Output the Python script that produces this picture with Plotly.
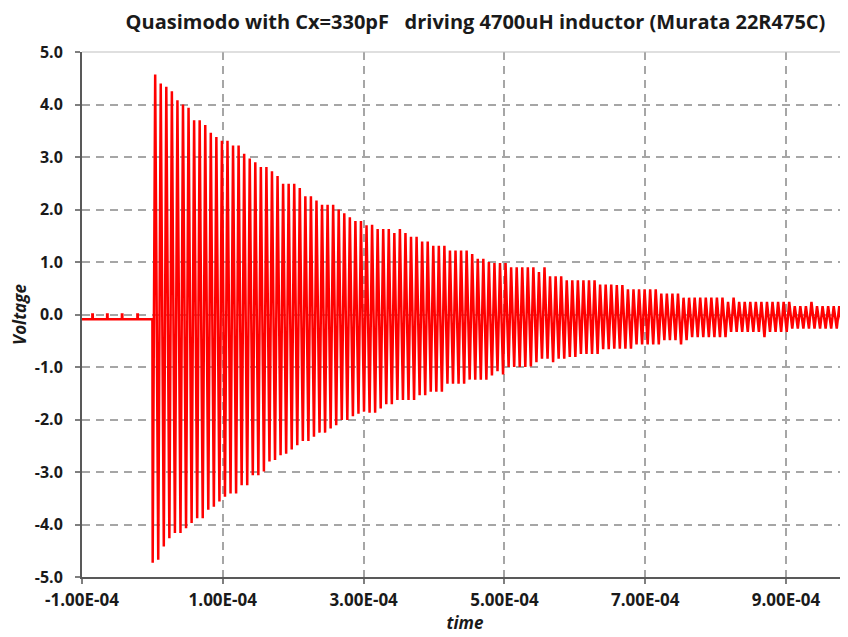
import plotly.graph_objects as go

# ---- data ----
period = 7.9e-6          # oscillation period (s), read from peak spacing
pre_level = -0.09        # level before the trigger (V)
pre_pulse_times = [-8.5e-5, -6.4e-5, -4.3e-5, -2.1e-5]
pre_pulse_level = 0.0

upper_peaks = [
    4.57, 4.40, 4.34, 4.25, 4.08, 4.00, 3.94, 3.70, 3.70, 3.61,
    3.46, 3.38, 3.31, 3.31, 3.22, 3.22, 3.06, 2.97, 2.90, 2.81,
    2.81, 2.73, 2.64, 2.49, 2.49, 2.49, 2.41, 2.25, 2.25, 2.17,
    2.09, 2.09, 2.09, 2.00, 1.93, 1.85, 1.78, 1.78, 1.70, 1.71,
    1.63, 1.63, 1.63, 1.55, 1.63, 1.55, 1.48, 1.48, 1.39, 1.39,
    1.31, 1.31, 1.31, 1.22, 1.22, 1.22, 1.22, 1.15, 1.06, 1.06,
    1.00, 0.98, 0.98, 0.98, 0.90, 0.90, 0.90, 0.90, 0.90, 0.81,
    0.90, 0.73, 0.73, 0.73, 0.65, 0.65, 0.65, 0.65, 0.65, 0.65,
    0.57, 0.57, 0.57, 0.56, 0.56, 0.48, 0.48, 0.48, 0.48, 0.48,
    0.48, 0.40, 0.40, 0.40, 0.40, 0.32, 0.32, 0.32, 0.32, 0.32,
    0.32, 0.32, 0.32, 0.24, 0.32, 0.24, 0.24, 0.24, 0.24, 0.24,
    0.24, 0.24, 0.24, 0.24, 0.24, 0.16, 0.16, 0.16, 0.24, 0.16,
    0.16, 0.16, 0.16, 0.16, 0.24,
]
lower_peaks = [
    -4.73, -4.67, -4.42, -4.26, -4.16, -4.16, -4.07, -3.97, -3.88, -3.88,
    -3.72, -3.66, -3.56, -3.47, -3.41, -3.41, -3.25, -3.25, -3.06, -3.06,
    -2.99, -2.80, -2.77, -2.68, -2.65, -2.57, -2.49, -2.41, -2.41, -2.33,
    -2.25, -2.25, -2.17, -2.11, -2.01, -2.01, -1.94, -1.89, -1.85, -1.87,
    -1.87, -1.79, -1.71, -1.71, -1.63, -1.63, -1.63, -1.63, -1.54, -1.54,
    -1.47, -1.47, -1.47, -1.32, -1.32, -1.32, -1.32, -1.24, -1.24, -1.24,
    -1.24, -1.16, -1.08, -1.14, -1.00, -1.00, -1.00, -1.00, -0.99, -0.91,
    -0.84, -0.84, -0.91, -0.84, -0.84, -0.81, -0.81, -0.75, -0.75, -0.75,
    -0.75, -0.66, -0.66, -0.65, -0.65, -0.65, -0.65, -0.57, -0.57, -0.57,
    -0.57, -0.57, -0.49, -0.49, -0.49, -0.57, -0.49, -0.43, -0.43, -0.43,
    -0.43, -0.43, -0.43, -0.43, -0.33, -0.33, -0.33, -0.33, -0.33, -0.33,
    -0.43, -0.33, -0.33, -0.33, -0.33, -0.27, -0.27, -0.27, -0.27, -0.27,
    -0.27, -0.27, -0.27, -0.27, -0.27,
]

x_tick_vals = [-1e-4, 1e-4, 3e-4, 5e-4, 7e-4, 9e-4]
x_tick_text = ["-1.00E-04", "1.00E-04", "3.00E-04", "5.00E-04", "7.00E-04", "9.00E-04"]
y_tick_vals = [-5, -4, -3, -2, -1, 0, 1, 2, 3, 4, 5]
y_tick_text = ["-5.0", "-4.0", "-3.0", "-2.0", "-1.0", "0.0", "1.0", "2.0", "3.0", "4.0", "5.0"]

title_text = "Quasimodo with Cx=330pF   driving 4700uH inductor (Murata 22R475C)"

# ---- build the waveform from the read values ----
t = [-1e-4]
v = [pre_level]
half = 0.3e-6
for tp in pre_pulse_times:
    t += [tp - half, tp - half, tp + half, tp + half]
    v += [pre_level, pre_pulse_level, pre_pulse_level, pre_level]
t.append(0.0)
v.append(pre_level)
n = max(len(upper_peaks), len(lower_peaks))
for k in range(n):
    if k < len(lower_peaks):
        t.append((k + 0.05) * period)
        v.append(lower_peaks[k])
    if k < len(upper_peaks):
        t.append((k + 0.5) * period)
        v.append(upper_peaks[k])

fig = go.Figure()
fig.add_trace(go.Scatter(x=t, y=v, mode="lines",
                         line=dict(color="#FF0000", width=2.5),
                         showlegend=False, hoverinfo="skip"))

# page body has an 8px margin, so the figure is 8px smaller and offset
OFF = 8
W, H = 848 - OFF, 637 - OFF
L, R, T = 82 - OFF, 0, 52 - OFF
B = H - T - 525
x_max = -1e-4 + (848 - 82) / 704.0 * 1e-3

FONT = "Open Sans"
TXT = "#1a1a1a"
GRID_DASH = "8px,6px"
fig.update_layout(
    width=W, height=H,
    margin=dict(l=L, r=R, t=T, b=B, autoexpand=False),
    paper_bgcolor="white", plot_bgcolor="white",
    title=dict(text="<b>" + title_text + "</b>",
               font=dict(family=FONT, size=20, color=TXT),
               x=(475.5 - OFF) / W, xref="container", xanchor="center",
               y=1 - (22 - OFF) / H, yref="container", yanchor="middle"),
    xaxis=dict(range=[-1e-4, x_max], tickvals=x_tick_vals,
               ticktext=["<b>" + s + "</b>" for s in x_tick_text],
               tickfont=dict(family=FONT, size=17, color=TXT),
               ticks="outside", ticklen=5, tickwidth=2,
               tickcolor="#7f7f7f", automargin=False, ticklabelstandoff=2,
               showline=True, linecolor="#595959", linewidth=2,
               showgrid=True, gridcolor="#A6A6A6", griddash=GRID_DASH, gridwidth=2,
               zeroline=False,
               title=dict(text="<b><i>time</i></b>",
                          font=dict(family=FONT, size=17, color=TXT),
                          standoff=2)),
    yaxis=dict(range=[-5, 5], tickvals=y_tick_vals,
               ticktext=["<b>" + s + "</b>" for s in y_tick_text],
               tickfont=dict(family=FONT, size=16, color=TXT),
               ticks="outside", ticklen=5, tickwidth=2, tickcolor="#7f7f7f",
               showline=True, linecolor="#595959", linewidth=2,
               showgrid=True, gridcolor="#A6A6A6", griddash=GRID_DASH, gridwidth=2,
               zeroline=False, ticklabelstandoff=9, automargin=False,
               title=dict(text="<b><i>Voltage</i></b>",
                          font=dict(family=FONT, size=17, color=TXT),
                          standoff=6)),
)
fig.add_shape(type="line", xref="paper", yref="paper", x0=0, x1=1, y0=1, y1=1,
              line=dict(color="#BFBFBF", width=1))

fig.write_html("out.html")
